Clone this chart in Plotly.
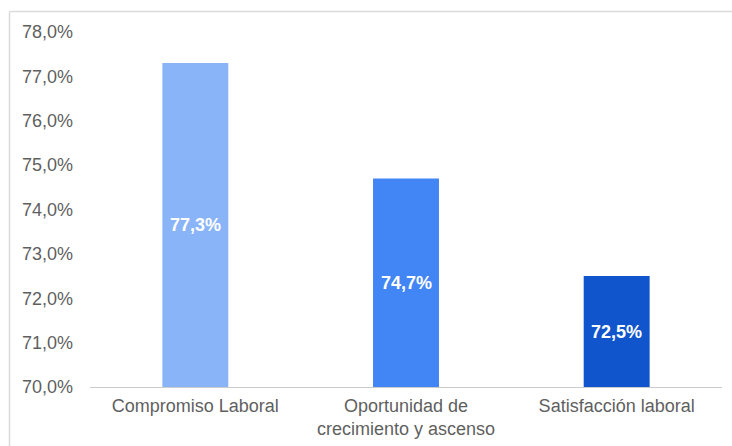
import plotly.graph_objects as go

# Survey dimensions and their scores (percent)
categories = ["Compromiso Laboral", "Oportunidad de<br>crecimiento y ascenso", "Satisfacción laboral"]
scores = [77.3, 74.7, 72.5]
bar_colors = ["#8ab4f8", "#4285f4", "#1155cc"]
y_ticks = [70, 71, 72, 73, 74, 75, 76, 77, 78]
y_min, y_max = 70, 78


def pct(v):
    return f"{v:.1f}".replace(".", ",") + "%"


W, H = 732, 446
L, R, T, B = 90, 10, 32, 59

fig = go.Figure(
    go.Bar(
        x=categories,
        y=scores,
        marker=dict(color=bar_colors, line=dict(width=0)),
        textposition="none",
        width=0.313,
        hoverinfo="skip",
    )
)

# value labels centred in the visible part of each bar
for cat, val in zip(categories, scores):
    fig.add_annotation(
        x=cat, y=(y_min + val) / 2, xref="x", yref="y",
        text=pct(val), showarrow=False,
        font=dict(family="Liberation Sans, Arial", size=18, color="#ffffff", weight="bold"),
    )

# light frame along the top and left edges of the chart card
pw, ph = W - L - R, H - T - B
x_left = (9.5 - L) / pw
x_right = (W - L) / pw
y_top = 1 + (T - 11.5) / ph
y_bottom = -(B) / ph
fig.add_shape(type="line", xref="paper", yref="paper", x0=x_left, x1=x_right, y0=y_top, y1=y_top,
              line=dict(color="#dadada", width=1.5))
fig.add_shape(type="line", xref="paper", yref="paper", x0=x_left, x1=x_left, y0=y_top, y1=y_bottom,
              line=dict(color="#dadada", width=1.5))

fig.update_layout(
    width=W,
    height=H,
    margin=dict(l=L, r=R, t=T, b=B, autoexpand=False),
    paper_bgcolor="#ffffff",
    plot_bgcolor="#ffffff",
    showlegend=False,
    font=dict(family="Liberation Sans, Arial", size=18, color="#5f5f5f"),
    xaxis=dict(
        showgrid=False,
        showline=True,
        linecolor="#cccccc",
        linewidth=1,
        ticks="",
        automargin=False,
        ticklabelstandoff=2,
        tickfont=dict(size=18, color="#5f5f5f"),
    ),
    yaxis=dict(
        range=[y_min, y_max],
        tickvals=y_ticks,
        ticktext=[pct(v) for v in y_ticks],
        showgrid=False,
        zeroline=False,
        showline=False,
        ticks="",
        automargin=False,
        ticklabelstandoff=16,
        tickfont=dict(size=18, color="#5f5f5f"),
    ),
)

fig.write_html("out.html")
